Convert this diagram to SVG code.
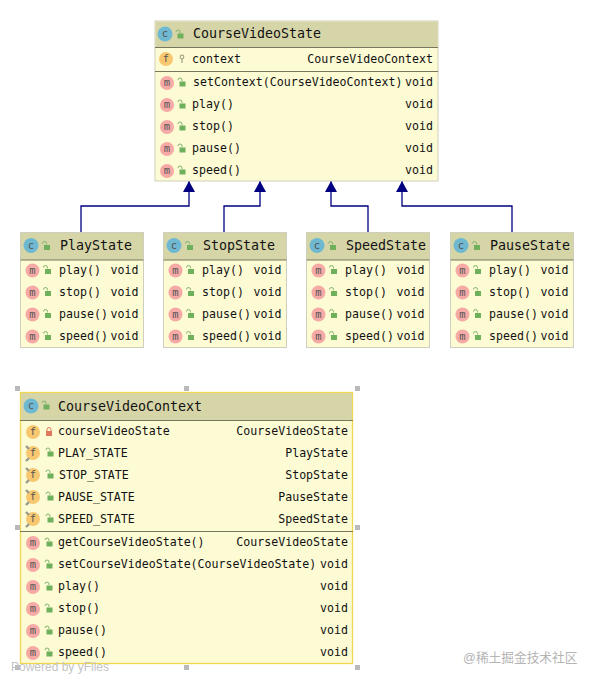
<svg xmlns="http://www.w3.org/2000/svg" width="594" height="683" viewBox="0 0 594 683">
<style>
text{font-family:"DejaVu Sans Mono","Liberation Mono",monospace;font-size:11.6px;fill:#111}
.t{font-size:13.3px}
.r{text-anchor:end}
.body{fill:#fdfbd4;stroke:#cfcfbd;stroke-width:1}
.sel{fill:#fdfbd4;stroke:#f2d64e;stroke-width:1.3}
.head{fill:#d6d5a8}
.sep{stroke:#77775f;stroke-width:1}
.edge{fill:none;stroke:#000080;stroke-width:1.3}
.hand{fill:#b9b9b9}
.wm{font-family:"Liberation Sans",Arial,sans-serif;font-size:12px;fill:#c4c4c4}
.cn{font-family:"Liberation Sans","Noto Sans CJK SC",sans-serif;font-size:12.7px;fill:#b4b4b4}
.il{font-size:10.5px;text-anchor:middle;fill:#555}
</style>
<defs>
<marker id="arr" markerWidth="12" markerHeight="12" refX="11" refY="6" orient="auto" markerUnits="userSpaceOnUse"><path d="M0,0 L11,6 L0,12 Z" fill="#000080"/></marker>
<g id="lock"><path d="M-3,-3 a2,2 0 0 1 4,0 v1" fill="none" stroke="#7fb56e" stroke-width="1"/><rect x="-1.5" y="-1.500" width="6" height="5" fill="#6fb05c"/></g>
<g id="plock"><path d="M-2,-1 v-1.5 a2,2 0 0 1 4,0 v1.5" fill="none" stroke="#e0785c" stroke-width="1"/><rect x="-3" y="-1" width="6" height="5" fill="#e0785c"/></g>
<g id="c"><circle r="7.500" fill="#6fb8d2"/><text class="il" y="3.300">c</text></g>
<g id="m"><circle r="7" fill="#f6aaa6"/><text class="il" y="3.300">m</text></g>
<g id="f"><circle r="7" fill="#f8c870"/><text class="il" y="3.300">f</text></g>
<g id="sf"><circle r="7" fill="#f8c870"/><path d="M-7,-7 l3,3 M-7,8 l3,-3" stroke="#9a9a8a" stroke-width="2.400"/><text class="il" y="3.300">f</text></g>
<g id="key"><circle cy="-2" r="1.800" fill="none" stroke="#a9a98a" stroke-width="1.200"/><path d="M0,0 v4" stroke="#a9a98a" stroke-width="1.300"/></g>
</defs>

<g id="connectors">
<path class="edge" marker-end="url(#arr)" d="M81,232 V206 H189 V181"/>
<path class="edge" marker-end="url(#arr)" d="M224,232 V206 H260 V181"/>
<path class="edge" marker-end="url(#arr)" d="M368,232 V206 H331 V181"/>
<path class="edge" marker-end="url(#arr)" d="M512,232 V206 H402 V181"/>
</g>

<g id="CourseVideoState">
<rect class="body" x="155" y="21" width="283" height="160"/>
<rect class="head" x="155.500" y="21.500" width="282" height="26"/>
<line class="sep" x1="155" y1="47.500" x2="438" y2="47.500"/>
<line class="sep" x1="155" y1="71.500" x2="438" y2="71.500"/>
<use href="#c" x="165" y="34"/><use href="#lock" x="179" y="35"/>
<text class="t" x="193" y="38">CourseVideoState</text>
<use href="#f" x="166" y="59"/><use href="#key" x="182" y="59"/>
<text x="192" y="63">context</text><text class="r" x="433" y="63">CourseVideoContext</text>
<use href="#m" x="167" y="83"/><use href="#lock" x="181" y="83"/>
<text x="193" y="86">setContext(CourseVideoContext)</text><text class="r" x="433" y="86">void</text>
<use href="#m" x="167" y="105"/><use href="#lock" x="181" y="105"/>
<text x="192" y="108">play()</text><text class="r" x="433" y="108">void</text>
<use href="#m" x="167" y="127"/><use href="#lock" x="181" y="127"/>
<text x="192" y="130">stop()</text><text class="r" x="433" y="130">void</text>
<use href="#m" x="167" y="149"/><use href="#lock" x="181" y="149"/>
<text x="192" y="152">pause()</text><text class="r" x="433" y="152">void</text>
<use href="#m" x="167" y="171"/><use href="#lock" x="181" y="171"/>
<text x="192" y="174">speed()</text><text class="r" x="433" y="174">void</text>
</g>

<g id="PlayState" transform="translate(20.500 232.500)">
<rect class="body" width="123" height="115"/><rect class="head" x=".5" y=".5" width="122" height="27"/>
<line class="sep" x1="0" y1="27.500" x2="123" y2="27.500"/>
<use href="#c" x="10.500" y="13"/><use href="#lock" x="25" y="14"/><text class="t" x="39.500" y="17">PlayState</text>
<use href="#m" x="12" y="38"/><use href="#lock" x="26" y="38"/><text x="38.500" y="41">play()</text><text class="r" x="118" y="41">void</text>
<use href="#m" x="12" y="60"/><use href="#lock" x="26" y="60"/><text x="38.500" y="63">stop()</text><text class="r" x="118" y="63">void</text>
<use href="#m" x="12" y="82"/><use href="#lock" x="26" y="82"/><text x="38.500" y="85">pause()</text><text class="r" x="118" y="85">void</text>
<use href="#m" x="12" y="104"/><use href="#lock" x="26" y="104"/><text x="38.500" y="107">speed()</text><text class="r" x="118" y="107">void</text>
</g>
<g id="StopState" transform="translate(163.500 232.500)">
<rect class="body" width="123" height="115"/><rect class="head" x=".5" y=".5" width="122" height="27"/>
<line class="sep" x1="0" y1="27.500" x2="123" y2="27.500"/>
<use href="#c" x="10.500" y="13"/><use href="#lock" x="25" y="14"/><text class="t" x="39.500" y="17">StopState</text>
<use href="#m" x="12" y="38"/><use href="#lock" x="26" y="38"/><text x="38.500" y="41">play()</text><text class="r" x="118" y="41">void</text>
<use href="#m" x="12" y="60"/><use href="#lock" x="26" y="60"/><text x="38.500" y="63">stop()</text><text class="r" x="118" y="63">void</text>
<use href="#m" x="12" y="82"/><use href="#lock" x="26" y="82"/><text x="38.500" y="85">pause()</text><text class="r" x="118" y="85">void</text>
<use href="#m" x="12" y="104"/><use href="#lock" x="26" y="104"/><text x="38.500" y="107">speed()</text><text class="r" x="118" y="107">void</text>
</g>
<g id="SpeedState" transform="translate(306.500 232.500)">
<rect class="body" width="123" height="115"/><rect class="head" x=".5" y=".5" width="122" height="27"/>
<line class="sep" x1="0" y1="27.500" x2="123" y2="27.500"/>
<use href="#c" x="10.500" y="13"/><use href="#lock" x="25" y="14"/><text class="t" x="39.500" y="17">SpeedState</text>
<use href="#m" x="12" y="38"/><use href="#lock" x="26" y="38"/><text x="38.500" y="41">play()</text><text class="r" x="118" y="41">void</text>
<use href="#m" x="12" y="60"/><use href="#lock" x="26" y="60"/><text x="38.500" y="63">stop()</text><text class="r" x="118" y="63">void</text>
<use href="#m" x="12" y="82"/><use href="#lock" x="26" y="82"/><text x="38.500" y="85">pause()</text><text class="r" x="118" y="85">void</text>
<use href="#m" x="12" y="104"/><use href="#lock" x="26" y="104"/><text x="38.500" y="107">speed()</text><text class="r" x="118" y="107">void</text>
</g>
<g id="PauseState" transform="translate(450.500 232.500)">
<rect class="body" width="123" height="115"/><rect class="head" x=".5" y=".5" width="122" height="27"/>
<line class="sep" x1="0" y1="27.500" x2="123" y2="27.500"/>
<use href="#c" x="10.500" y="13"/><use href="#lock" x="25" y="14"/><text class="t" x="39.500" y="17">PauseState</text>
<use href="#m" x="12" y="38"/><use href="#lock" x="26" y="38"/><text x="38.500" y="41">play()</text><text class="r" x="118" y="41">void</text>
<use href="#m" x="12" y="60"/><use href="#lock" x="26" y="60"/><text x="38.500" y="63">stop()</text><text class="r" x="118" y="63">void</text>
<use href="#m" x="12" y="82"/><use href="#lock" x="26" y="82"/><text x="38.500" y="85">pause()</text><text class="r" x="118" y="85">void</text>
<use href="#m" x="12" y="104"/><use href="#lock" x="26" y="104"/><text x="38.500" y="107">speed()</text><text class="r" x="118" y="107">void</text>
</g>

<g id="CourseVideoContext">
<rect class="sel" x="20.500" y="392.500" width="332" height="271"/>
<rect class="head" x="21" y="393" width="331" height="27"/>
<line class="sep" x1="20" y1="420.500" x2="353" y2="420.500"/>
<line class="sep" x1="20" y1="531.500" x2="353" y2="531.500"/>
<use href="#c" x="31" y="406"/><use href="#lock" x="45" y="406"/>
<text class="t" x="58" y="411">CourseVideoContext</text>
<use href="#f" x="33" y="432"/><use href="#plock" x="49" y="432"/>
<text x="58" y="435">courseVideoState</text><text class="r" x="348" y="435">CourseVideoState</text>
<use href="#sf" x="33" y="453"/><use href="#lock" x="49" y="453"/>
<text x="58" y="457">PLAY_STATE</text><text class="r" x="348" y="457">PlayState</text>
<use href="#sf" x="33" y="475"/><use href="#lock" x="49" y="475"/>
<text x="59" y="479">STOP_STATE</text><text class="r" x="348" y="479">StopState</text>
<use href="#sf" x="33" y="497"/><use href="#lock" x="49" y="497"/>
<text x="58" y="501">PAUSE_STATE</text><text class="r" x="348" y="501">PauseState</text>
<use href="#sf" x="33" y="519"/><use href="#lock" x="49" y="519"/>
<text x="58" y="523">SPEED_STATE</text><text class="r" x="348" y="523">SpeedState</text>
<use href="#m" x="33" y="543"/><use href="#lock" x="48" y="543"/>
<text x="58" y="546">getCourseVideoState()</text><text class="r" x="348" y="546">CourseVideoState</text>
<use href="#m" x="33" y="565"/><use href="#lock" x="48" y="565"/>
<text x="58" y="568">setCourseVideoState(CourseVideoState)</text><text class="r" x="348" y="568">void</text>
<use href="#m" x="33" y="587"/><use href="#lock" x="48" y="587"/>
<text x="58" y="590">play()</text><text class="r" x="348" y="590">void</text>
<use href="#m" x="33" y="609"/><use href="#lock" x="48" y="609"/>
<text x="58" y="612">stop()</text><text class="r" x="348" y="612">void</text>
<use href="#m" x="33" y="631"/><use href="#lock" x="48" y="631"/>
<text x="58" y="634">pause()</text><text class="r" x="348" y="634">void</text>
<use href="#m" x="33" y="653"/><use href="#lock" x="48" y="653"/>
<text x="58" y="656">speed()</text><text class="r" x="348" y="656">void</text>
</g>

<g id="handles">
<rect class="hand" x="15" y="386" width="5" height="5"/><rect class="hand" x="184" y="386" width="5" height="5"/><rect class="hand" x="355" y="386" width="5" height="5"/>
<rect class="hand" x="15" y="525" width="5" height="5"/><rect class="hand" x="355" y="525" width="5" height="5"/>
<rect class="hand" x="15" y="665" width="5" height="5"/><rect class="hand" x="184" y="665" width="5" height="5"/><rect class="hand" x="355" y="665" width="5" height="5"/>
</g>
<text class="wm" x="11" y="671">Powered by yFiles</text>
<text class="cn" x="463" y="662">@稀土掘金技术社区</text>
</svg>
